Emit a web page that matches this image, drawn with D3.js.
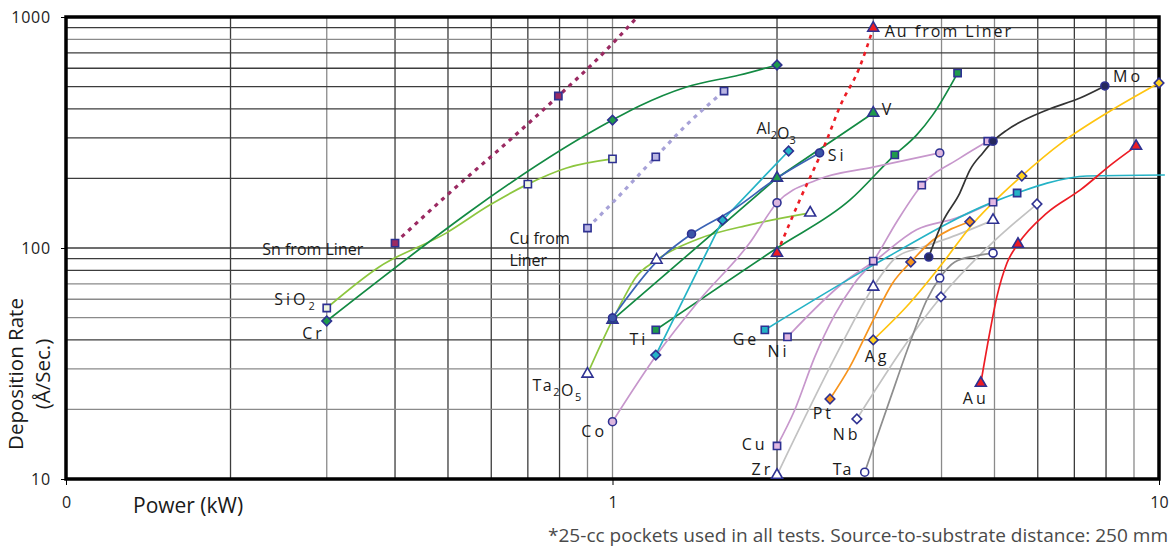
<!DOCTYPE html>
<html>
<head>
<meta charset="utf-8">
<script src="https://cdn.jsdelivr.net/npm/d3@7"></script>
<style>
  body { margin: 0; background: #fff; }
  svg { display: block; font-family: "Open Sans", "Noto Sans", sans-serif; }
</style>
</head>
<body>
<svg id="chart" width="1173" height="546"></svg>
<script>
// Deposition rate vs power, log-log. Each series: [kW, A/sec, marker?]
const snFromLiner = [[0.4,105,1],[0.503,173],[0.64,285],[0.796,455,1],[0.935,652],[1.106,990]];
const cuFromLiner = [[0.9,122,1],[1.0,157],[1.2,248,1],[1.366,341],[1.6,478,1]];
const cr    = [[0.3,48.3,1],[1.0,358,1],[1.12,412],[1.366,498],[1.708,561],[2.0,620,1]];
const sio2  = [[0.3,55,1],[0.374,82.8],[0.496,116],[0.595,153],[0.7,189,1],[0.824,222],[1.0,243,1]];
const ta2o5 = [[0.9,28.5,1],[1.0,48.8],[1.05,61],[1.1,74],[1.204,88.7,1],[1.443,110],[1.782,126],[2.3,142,1]];
const ti    = [[1.2,44.2,1],[2.0,100],[2.717,161],[3.285,253,1],[3.6,308],[3.855,377],[4.28,572,1]];
const v     = [[1.0,48.8,1],[2.0,201,1],[3.0,384,1]];
const si    = [[1.0,49.8,1],[1.204,87],[1.395,115,1],[1.659,146],[2.0,201],[2.393,258,1]];
const al2o3 = [[1.2,34.4,1],[1.59,132,1],[2.1,263,1]];
const co    = [[1.0,17.7,1],[1.204,34.4],[1.443,59.6],[1.782,105],[2.0,157,1],[2.364,197],[3.0,224],[3.97,258,1]];
const ge    = [[1.9,44.2,1],[3.0,84.3],[4.966,158],[5.5,173,1],[6.24,191],[7.38,205],[10.25,207]];
const ni    = [[2.09,41.2,1],[2.683,72.7],[3.0,87],[3.6,120],[4.27,135],[4.97,158,1]];
const cu    = [[2.0,13.9,1],[2.155,19.9],[2.344,33.7],[2.55,51.3],[2.775,70.6],[3.0,87.8,1],[3.313,130],[3.68,187,1],[4.32,245],[4.86,290,1]];
const zr    = [[2.0,10.4,1],[2.572,34.8],[3.0,67.8,1],[3.31,91.4],[3.7,101],[4.27,114],[4.97,132,1]];
const nb    = [[2.8,18.2,1],[3.99,61.4,1],[4.97,106],[5.98,155,1]];
const ta    = [[2.894,10.7,1],[3.217,22],[3.5,38.8],[3.76,59.6],[3.97,74.1,1],[4.23,87],[4.6,92.3],[4.97,95,1]];
const pt    = [[2.5,22.2,1],[2.717,30.5],[2.98,47.3],[3.256,70.6],[3.514,87,1],[3.855,108],[4.507,130,1]];
const ag    = [[3.0,40,1],[3.5,57.8],[4.02,86.1],[4.51,123],[5.61,205,1],[6.67,288],[8.03,384],[10,518,1]];
const mo    = [[3.79,91.4,1],[4.02,130],[4.32,173],[4.51,218],[4.76,258],[4.97,290,1],[5.27,324],[6.24,396],[7.17,446],[7.96,503,1]];
const au    = [[4.72,26,1],[4.9,42.9],[5.05,61.4],[5.27,86.1],[5.52,104,1],[6.24,142],[7.17,178],[8.24,233],[9.08,276,1]];
const auFromLiner = [[2.0,95,1],[2.2,161],[2.466,293],[2.605,408],[2.834,608],[3.0,896,1]];

// labels: text, kW, rate (left/baseline anchor), letter spacing
const labels = [
  ['Sn from Liner', 0.2286, 93.3, 0],
  ['SiO2', 0.2404, 56.6, 3],
  ['Cr', 0.2705, 40.4, 3],
  ['Cu from', 0.6476, 104, 0],
  ['Liner', 0.6476, 83.6, 0],
  ['Al2O3', 1.835, 311, 0],
  ['Si', 2.476, 238, 3],
  ['V', 3.11, 376, 0],
  ['Au from Liner', 3.149, 819, 2],
  ['Mo', 8.24, 523, 3],
  ['Ti', 1.074, 38, 3],
  ['Ge', 1.659, 38, 3],
  ['Ni', 1.922, 33.7, 3],
  ['Ta2O5', 0.714, 24.0, 1.5],
  ['Co', 0.877, 15.2, 3],
  ['Cu', 1.723, 13.4, 3],
  ['Zr', 1.797, 10.4, 3],
  ['Pt', 2.324, 18.2, 3],
  ['Nb', 2.529, 14.8, 3],
  ['Ta', 2.529, 10.4, 1],
  ['Ag', 2.894, 32.1, 3],
  ['Au', 4.375, 21.1, 3]
];

const xTickLabels = [[0.1, '0'], [1, '1'], [10, '10']];
const yTickValues = [10, 100, 1000];
const xGrayLines = [0.3, 0.9, 1, 3, 4, 5, 9];
const yGrayLines = [800, 70, 60, 50, 30, 20];

const NAVY = '#2e3192';
const series = [
  {pts: sio2,  color: '#8dc63f', shape: 'square',   fill: '#eef5e0'},
  {pts: ta2o5, color: '#8dc63f', shape: 'triangle', fill: '#ffffff'},
  {pts: cr,    color: '#138a43', shape: 'diamond',  fill: '#1f9a4c'},
  {pts: ti,    color: '#138a43', shape: 'square',   fill: '#1f9a4c'},
  {pts: v,     color: '#138a43', shape: 'triangle', fill: '#1f9a4c', linear: true},
  {pts: co,    color: '#c797cc', shape: 'circle',   fill: '#dcb6de'},
  {pts: ni,    color: '#c797cc', shape: 'square',   fill: '#e2b8e2'},
  {pts: cu,    color: '#c797cc', shape: 'square',   fill: '#e2b8e2'},
  {pts: zr,    color: '#c2c2c2', shape: 'triangle', fill: '#ffffff'},
  {pts: nb,    color: '#c2c2c2', shape: 'diamond',  fill: '#ffffff'},
  {pts: ta,    color: '#8e8e8e', shape: 'circle',   fill: '#ffffff'},
  {pts: ge,    color: '#25b3c6', shape: 'square',   fill: '#25b3c6'},
  {pts: al2o3, color: '#25b3c6', shape: 'diamond',  fill: '#25b3c6', linear: true},
  {pts: si,    color: '#3b63b5', shape: 'circle',   fill: '#3b55a8'},
  {pts: pt,    color: '#f7941d', shape: 'diamond',  fill: '#f7941d'},
  {pts: ag,    color: '#ffc40f', shape: 'diamond',  fill: '#ffd21f'},
  {pts: mo,    color: '#333333', shape: 'circle',   fill: '#26295e'},
  {pts: au,    color: '#ed1c24', shape: 'triangle', fill: '#ed1c24'},
  {pts: snFromLiner, color: '#9b2a62', shape: 'square', fill: '#9b2a62', dash: '4,5', width: 3.2},
  {pts: cuFromLiner, color: '#a7a2d8', shape: 'square', fill: '#b9b5e3', dash: '4,5', width: 3.2},
  {pts: auFromLiner, color: '#ed1c24', shape: 'triangle', fill: '#ed1c24', dash: '4,5', width: 2.6}
];

const svg = d3.select('#chart');
const x = d3.scaleLog().domain([0.1, 10]).range([66, 1159]);
const y = d3.scaleLog().domain([10, 1000]).range([479, 17]);

// grid
const grid = svg.append('g');
grid.selectAll('line.gx')
  .data(x.ticks().filter(d => d > 0.1 && d < 10))
  .join('line')
  .attr('x1', d => x(d)).attr('x2', d => x(d))
  .attr('y1', y(1000)).attr('y2', y(10))
  .attr('stroke', d => xGrayLines.some(g => Math.abs(g - d) < 1e-6) ? '#8a8a8a' : '#3c3c3c')
  .attr('stroke-width', 1.3);
grid.selectAll('line.gy')
  .data(y.ticks().filter(d => d > 10 && d < 1000))
  .join('line')
  .attr('y1', d => y(d)).attr('y2', d => y(d))
  .attr('x1', x(0.1)).attr('x2', x(10))
  .attr('stroke', d => yGrayLines.some(g => Math.abs(g - d) < 1e-6) ? '#8a8a8a' : '#3c3c3c')
  .attr('stroke-width', 1.3);

// frame
svg.append('rect')
  .attr('x', x(0.1)).attr('y', y(1000))
  .attr('width', x(10) - x(0.1)).attr('height', y(10) - y(1000))
  .attr('fill', 'none').attr('stroke', '#000').attr('stroke-width', 3.5);

// axes
const xAxis = svg.append('g')
  .attr('transform', `translate(0,${y(10)})`)
  .call(d3.axisBottom(x).tickValues(xTickLabels.map(d => d[0]))
    .tickFormat(d => xTickLabels.find(t => t[0] === d)[1])
    .tickSize(6).tickPadding(12));
xAxis.select('.domain').remove();
xAxis.selectAll('text').attr('font-size', 16).attr('fill', '#222')
  .attr('font-family', '"Open Sans", sans-serif');

const yAxis = svg.append('g')
  .attr('transform', `translate(${x(0.1)},0)`)
  .call(d3.axisLeft(y).tickValues(yTickValues).tickFormat(d3.format('d'))
    .tickSize(5).tickPadding(10));
yAxis.select('.domain').remove();
yAxis.selectAll('text').attr('font-size', 16).attr('fill', '#222')
  .attr('letter-spacing', 0.8)
  .attr('font-family', '"Open Sans", sans-serif');

// lines
const plot = svg.append('g');
series.forEach(s => {
  const line = d3.line()
    .x(d => x(d[0])).y(d => y(d[1]))
    .curve(s.linear ? d3.curveLinear : d3.curveMonotoneX);
  plot.append('path')
    .datum(s.pts)
    .attr('d', line)
    .attr('fill', 'none')
    .attr('stroke', s.color)
    .attr('stroke-width', s.width || 1.7)
    .attr('stroke-dasharray', s.dash || null);
});

// markers
const symbols = {
  square: d3.symbol(d3.symbolSquare, 52),
  diamond: d3.symbol(d3.symbolSquare, 46),
  triangle: d3.symbol(d3.symbolTriangle, 52),
  circle: d3.symbol(d3.symbolCircle, 50)
};
series.forEach(s => {
  plot.append('g').selectAll('path')
    .data(s.pts.filter(d => d[2]))
    .join('path')
    .attr('d', symbols[s.shape]())
    .attr('transform', d => `translate(${x(d[0])},${y(d[1])})` + (s.shape === 'diamond' ? ' rotate(45)' : ''))
    .attr('fill', s.fill)
    .attr('stroke', NAVY)
    .attr('stroke-width', 1.6);
});

// series labels, digits become subscripts
const lab = svg.append('g').attr('font-size', 16).attr('fill', '#1a1a1a');
labels.forEach(([t, kw, rate, sp]) => {
  const txt = lab.append('text')
    .attr('x', x(kw)).attr('y', y(rate))
    .attr('letter-spacing', sp);
  t.split(/(\d)/).filter(p => p !== '').forEach(p => {
    if (/\d/.test(p)) {
      txt.append('tspan').attr('font-size', 11).attr('dy', 5).text(p);
      txt.append('tspan').attr('dy', -5).text('');
    } else {
      txt.append('tspan').text(p);
    }
  });
});

// axis titles
svg.append('text')
  .attr('transform', 'translate(23,374) rotate(-90)')
  .attr('text-anchor', 'middle').attr('font-size', 20.5).attr('fill', '#1a1a1a')
  .text('Deposition Rate');
svg.append('text')
  .attr('transform', 'translate(50,374) rotate(-90)')
  .attr('text-anchor', 'middle').attr('font-size', 20.5).attr('fill', '#1a1a1a')
  .text('(Å/Sec.)');
svg.append('text')
  .attr('x', 133).attr('y', 513)
  .attr('font-size', 21).attr('fill', '#1a1a1a')
  .text('Power (kW)');

svg.append('text')
  .attr('x', 548).attr('y', 542)
  .attr('textLength', 620).attr('lengthAdjust', 'spacingAndGlyphs')
  .attr('font-size', 17.5).attr('fill', '#4a4a4a')
  .text('*25-cc pockets used in all tests. Source-to-substrate distance: 250 mm');
</script>
</body>
</html>
